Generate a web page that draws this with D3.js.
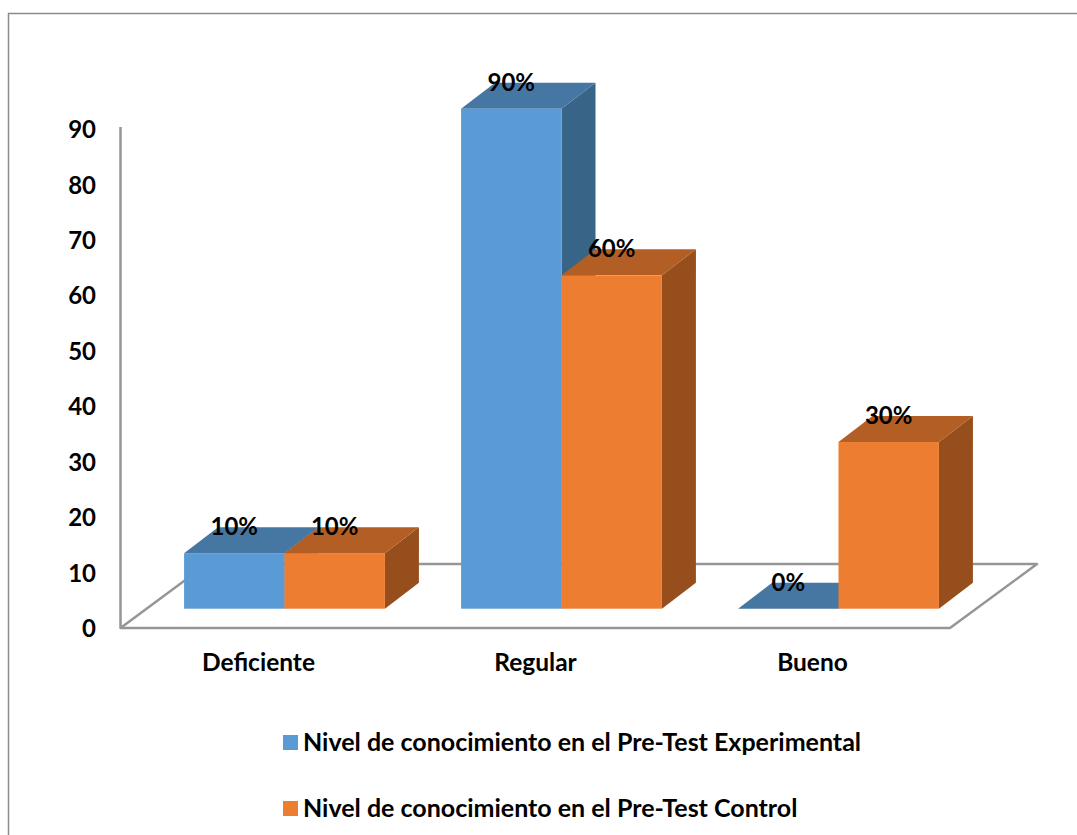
<!DOCTYPE html>
<html>
<head>
<meta charset="utf-8">
<script src="https://cdnjs.cloudflare.com/ajax/libs/d3/7.8.5/d3.min.js"></script>
<style>
  html, body { margin: 0; padding: 0; background: #fff; }
  svg { display: block; }
  text { font-family: Lato, "Open Sans", sans-serif; font-weight: 700; fill: #000; }
</style>
</head>
<body>
<svg id="chart" width="1077" height="835"></svg>
<script>
// Chart data
const categories = ["Deficiente", "Regular", "Bueno"];
const seriesNames = [
  "Nivel de conocimiento en el Pre-Test Experimental",
  "Nivel de conocimiento en el Pre-Test Control"
];
const experimental = [10, 90, 0];
const control = [10, 60, 30];
const yTicks = [0, 10, 20, 30, 40, 50, 60, 70, 80, 90];

// Face shades for each series: front, top, side
const palettes = [
  { front: "#5b9bd5", top: "#4676a2", side: "#386488" },
  { front: "#ed7d31", top: "#b35e24", side: "#964f1c" }
];

const svg = d3.select("#chart");
const depth = { dx: 34, dy: -26 };
const sizes = { axis: 24, category: 24.5, value: 24, legend: 25 };

// Scales: bar heights run along the front of the floor, axis labels along its near edge
const yBar = d3.scaleLinear().domain([0, 90]).range([608.7, 108.7]);
const yAxis = d3.scaleLinear().domain([0, 90]).range([628, 129]);
const x0 = d3.scaleBand().domain(categories).range([146, 977]).paddingInner(0.275).paddingOuter(0.1375);
const x1 = d3.scaleBand().domain([0, 1]).range([0, x0.bandwidth()]);

// Outer frame, open on the right and bottom
svg.append("path")
  .attr("d", "M8.5,835V13.5H1077")
  .attr("fill", "none").attr("stroke", "#8c8c8c").attr("stroke-width", 1.5);

// Floor and vertical wall of the 3D plot area
svg.append("path")
  .attr("d", "M120.5,127V628H950L1037,564H207L120.5,628")
  .attr("fill", "none").attr("stroke", "#969696").attr("stroke-width", 2.5)
  .attr("stroke-linejoin", "round");

// Value axis labels
const axis = d3.axisLeft(yAxis).tickValues(yTicks).tickSize(0).tickPadding(0);
const axisGroup = svg.append("g").attr("transform", "translate(96,0)").call(axis);
axisGroup.select(".domain").remove();
axisGroup.selectAll("text")
  .style("font-family", "Lato, 'Open Sans', sans-serif")
  .style("font-weight", 700)
  .style("font-size", sizes.axis + "px")
  .attr("dy", "0.36em");

// Category labels sit under the near edge of the floor
svg.append("g").selectAll("text").data(categories).join("text")
  .attr("x", d => x0(d) + x0.bandwidth() / 2 - 26)
  .attr("y", 671)
  .attr("text-anchor", "middle")
  .attr("font-size", sizes.category)
  .text(d => d);

// Extruded bars, one series at a time so that later bars overlap earlier ones
[experimental, control].forEach((values, s) => {
  const pal = palettes[s];
  const bars = svg.append("g").selectAll("g")
    .data(values.map((v, i) => ({ v, cat: categories[i] })))
    .join("g");

  bars.each(function (d) {
    const g = d3.select(this);
    const l = x0(d.cat) + x1(s);
    const r = l + x1.bandwidth();
    const t = yBar(d.v);
    const b = yBar(0);
    const { dx, dy } = depth;
    const poly = pts => pts.map(p => p.join(",")).join(" ");

    g.append("polygon").attr("fill", pal.side)
      .attr("points", poly([[r, t], [r + dx, t + dy], [r + dx, b + dy], [r, b]]));
    g.append("polygon").attr("fill", pal.top)
      .attr("points", poly([[l, t], [l + dx, t + dy], [r + dx, t + dy], [r, t]]));
    g.append("rect").attr("fill", pal.front)
      .attr("x", l).attr("y", t).attr("width", r - l).attr("height", b - t);
  });
});

// Percentage labels centred over the back edge of each bar top
[experimental, control].forEach((values, s) => {
  svg.append("g").selectAll("text").data(values).join("text")
    .attr("x", (d, i) => x0(categories[i]) + x1(s) + x1.bandwidth() / 2)
    .attr("y", d => yBar(d) + depth.dy + 8)
    .attr("text-anchor", "middle")
    .attr("font-size", sizes.value)
    .text(d => d + "%");
});

// Legend, stacked below the plot
const legendY = d3.scalePoint().domain(seriesNames).range([743, 809]);
const legend = svg.append("g").selectAll("g").data(seriesNames).join("g")
  .attr("transform", d => `translate(283,${legendY(d)})`);
legend.append("rect")
  .attr("x", 0).attr("y", -8).attr("width", 15).attr("height", 15)
  .attr("fill", (d, i) => palettes[i].front);
legend.append("text")
  .attr("x", 20).attr("y", 8)
  .attr("font-size", sizes.legend)
  .text(d => d);
</script>
</body>
</html>
